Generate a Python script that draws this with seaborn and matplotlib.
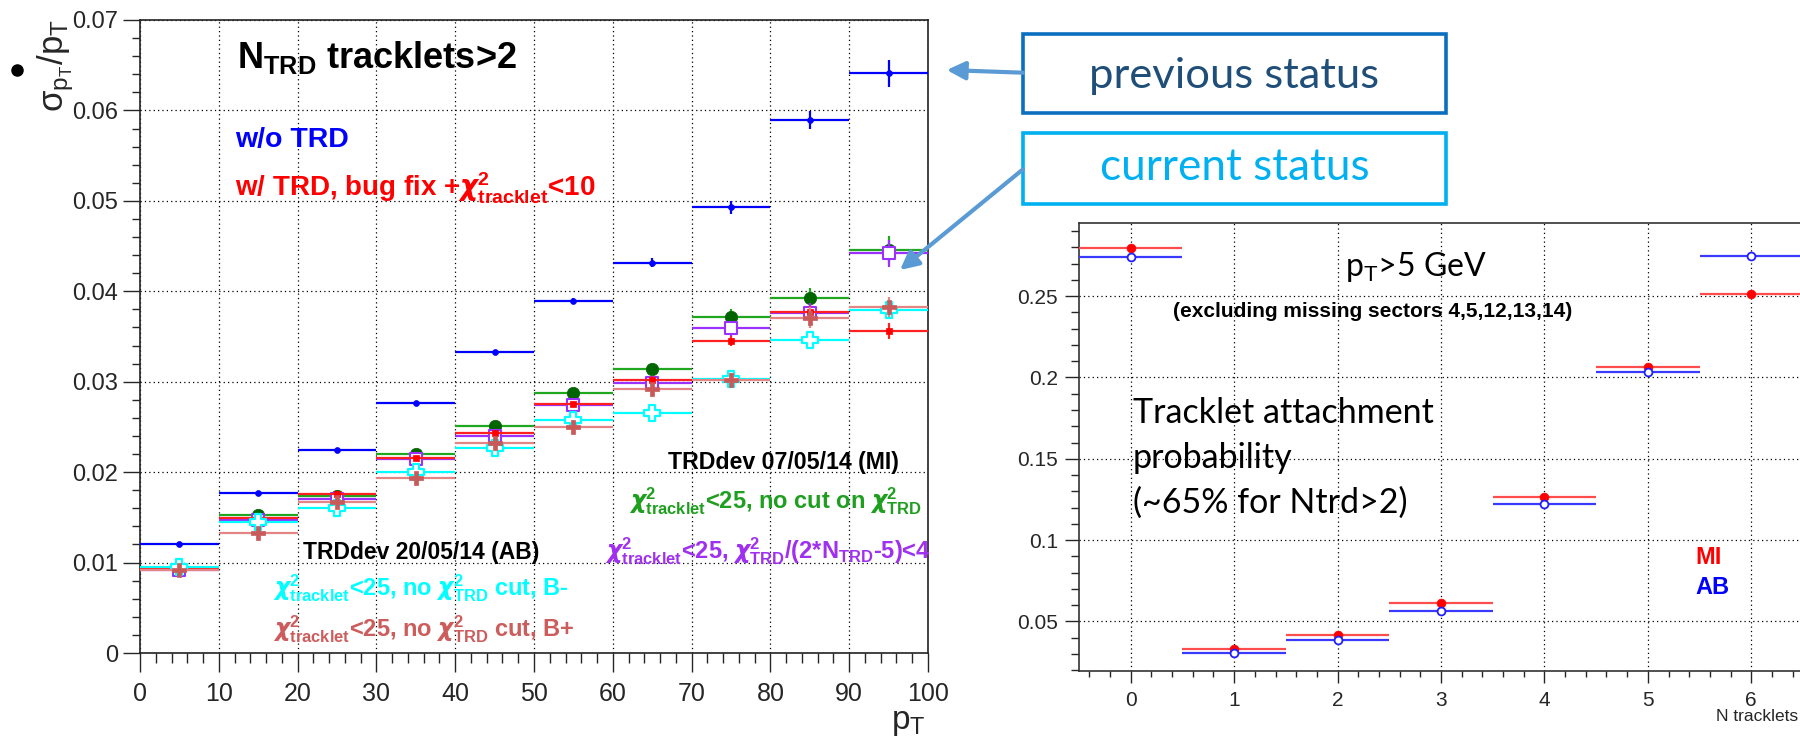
import numpy as np
import pandas as pd
import seaborn as sns
import matplotlib.pyplot as plt
from matplotlib.ticker import MultipleLocator, FuncFormatter
from matplotlib.patches import FancyArrowPatch, Rectangle
from matplotlib.lines import Line2D

# ---- left panel: relative pT resolution vs pT (10 GeV bins) ----
pt_bins = [5, 15, 25, 35, 45, 55, 65, 75, 85, 95]

res_wo_trd = [0.01205, 0.01773, 0.02241, 0.02768, 0.03326, 0.03893, 0.04317, 0.0493, 0.05893, 0.0641]
res_bugfix = [0.0093, 0.0149, 0.0176, 0.0216, 0.0243, 0.0275, 0.0302, 0.0345, 0.0377, 0.0356]
res_nocut = [0.0094, 0.01526, 0.01736, 0.02197, 0.0251, 0.0287, 0.0314, 0.0372, 0.0393, 0.0446]
res_ndfcut = [0.0092, 0.01467, 0.0170, 0.02142, 0.0240, 0.0274, 0.0299, 0.0359, 0.0376, 0.0442]
res_bminus = [0.0095, 0.01445, 0.0160, 0.02005, 0.0227, 0.0258, 0.0265, 0.0303, 0.0346, 0.0379]
res_bplus = [0.0092, 0.01323, 0.01673, 0.01939, 0.0232, 0.0250, 0.0292, 0.0302, 0.0371, 0.0383]

err_wo_trd = [0.0001, 0.0001, 0.0001, 0.0001, 0.0002, 0.0003, 0.0005, 0.0007, 0.0010, 0.0015]
err_bugfix = [0.0001, 0.0001, 0.0002, 0.0002, 0.0003, 0.0003, 0.0004, 0.0005, 0.0007, 0.0009]
err_nocut = [0.0001, 0.0002, 0.0002, 0.0003, 0.0004, 0.0005, 0.0006, 0.0008, 0.0011, 0.0015]
err_ndfcut = [0.0001, 0.0002, 0.0002, 0.0003, 0.0004, 0.0005, 0.0006, 0.0008, 0.0011, 0.0015]
err_bminus = [0.0001, 0.0002, 0.0002, 0.0003, 0.0003, 0.0004, 0.0005, 0.0007, 0.0009, 0.0009]
err_bplus = [0.0001, 0.0002, 0.0002, 0.0003, 0.0004, 0.0005, 0.0006, 0.0008, 0.0012, 0.0011]

# ---- right panel: tracklet attachment probability ----
n_tracklets = [0, 1, 2, 3, 4, 5, 6]
prob_mi = [0.2797, 0.0331, 0.0414, 0.0614, 0.1268, 0.2064, 0.2512]
prob_ab = [0.2742, 0.0305, 0.0385, 0.0565, 0.1221, 0.2035, 0.2750]
err_mi = [0.0015, 0.0008, 0.0008, 0.0010, 0.0012, 0.0014, 0.0014]
err_ab = [0.0015, 0.0008, 0.0008, 0.0010, 0.0012, 0.0014, 0.0014]

sns.set_theme(style='ticks')
plt.rcParams['font.family'] = ['Liberation Sans', 'DejaVu Sans']
plt.rcParams['mathtext.fontset'] = 'custom'
plt.rcParams['mathtext.rm'] = 'Liberation Sans'
plt.rcParams['mathtext.it'] = 'Liberation Sans:italic'
plt.rcParams['mathtext.bf'] = 'Liberation Sans:bold'
plt.rcParams['mathtext.sf'] = 'Liberation Sans'

W, H = 1800, 755


def px_rect(l, t, r, b):
    return [l / W, 1 - b / H, (r - l) / W, (b - t) / H]


def fx(x):
    return x / W


def fy(y):
    return 1 - y / H


fig = plt.figure(figsize=(18, 7.55), dpi=100)
ax = fig.add_axes(px_rect(140, 20, 928, 653))
ax2 = fig.add_axes(px_rect(1079, 223, 1803, 671))

fmt = FuncFormatter(lambda v, p: f'{v:g}')
grid_ls = (0, (1, 2.5))
chi = r'$\boldsymbol{\chi}^{\mathbf{2}}_{\mathbf{%s}}$'

# left panel series
left_series = [
    (res_wo_trd, err_wo_trd, dict(line='#0000ff', color='#0000ff', fc='#0000ff', marker='o', s=18, lw=0.5)),
    (res_nocut, err_nocut, dict(line='#1fa81f', color='#006400', fc='#006400', marker='o', s=80, lw=0.5)),
    (res_ndfcut, err_ndfcut, dict(line='#9b30ff', color='#9b30ff', fc='white', marker='s', s=72, lw=1.5)),
    (res_bugfix, err_bugfix, dict(line='#ff2020', color='#ff0000', fc='#ff0000', marker='s', s=22, lw=0.5)),
    (res_bminus, err_bminus, dict(line='#00ffff', color='#00ffff', fc='white', marker='P', s=120, lw=1.6)),
    (res_bplus, err_bplus, dict(line='#e38585', color='#c85a5a', fc='#c85a5a', marker='P', s=110, lw=0.5)),
]
for z, (vals, errs, st) in enumerate(left_series):
    ax.errorbar(pt_bins, vals, xerr=5, yerr=errs, fmt='none', ecolor=st['line'],
                elinewidth=1.6, capsize=0, zorder=3 + z)
    sns.scatterplot(x=pt_bins, y=vals, ax=ax, marker=st['marker'], s=st['s'],
                    color=st['color'], facecolor=st['fc'], edgecolor=st['color'],
                    linewidth=st['lw'], zorder=3.5 + z, legend=False)

ax.set_xlim(0, 100)
ax.set_ylim(0, 0.07)
ax.xaxis.set_major_locator(MultipleLocator(10))
ax.xaxis.set_minor_locator(MultipleLocator(2))
ax.yaxis.set_major_locator(MultipleLocator(0.01))
ax.yaxis.set_minor_locator(MultipleLocator(0.002))
ax.xaxis.set_major_formatter(fmt)
ax.yaxis.set_major_formatter(fmt)
ax.tick_params(axis='y', which='major', direction='out', length=12, width=1, labelsize=17, pad=4)
ax.tick_params(axis='y', which='minor', direction='out', length=6, width=1)
ax.tick_params(axis='x', which='major', direction='out', length=14, width=1, labelsize=18, pad=7)
ax.tick_params(axis='x', which='minor', direction='out', length=7, width=1)
ax.grid(True, which='major', color='black', linestyle=grid_ls, linewidth=0.9)
ax.set_axisbelow(True)
for sp in ax.spines.values():
    sp.set_color('#222222')
    sp.set_linewidth(1.2)
ax.set_xlabel('')
ax.set_ylabel('')

ax.text(12.3, 0.0647, r'N$_{\mathbf{TRD}}$ tracklets>2', fontsize=26, fontweight='bold',
        color='black', va='baseline')
ax.text(12.1, 0.0560, 'w/o TRD', fontsize=20.5, fontweight='bold', color='#0000ff', va='baseline')
ax.text(12.1, 0.05046, 'w/ TRD, bug fix +' + chi % 'tracklet' + '<10',
        fontsize=20, fontweight='bold', color='#ff0000', va='baseline')
ax.text(67.0, 0.0204, 'TRDdev 07/05/14 (MI)', fontsize=16.7, fontweight='bold',
        color='black', va='baseline')
ax.text(62.0, 0.01604, chi % 'tracklet' + '<25, no cut on ' + chi % 'TRD',
        fontsize=17, fontweight='bold', color='#1f9f1f', va='baseline')
ax.text(59.0, 0.01048, chi % 'tracklet' + '<25, ' + chi % 'TRD' + r'/(2*N$_{\mathbf{TRD}}$-5)<4',
        fontsize=17, fontweight='bold', color='#a030f0', va='baseline')
ax.text(20.7, 0.01036, 'TRDdev 20/05/14 (AB)', fontsize=16.5, fontweight='bold',
        color='black', va='baseline')
ax.text(16.9, 0.0064, chi % 'tracklet' + '<25, no ' + chi % 'TRD' + ' cut, B-',
        fontsize=17, fontweight='bold', color='#00ffff', va='baseline')
ax.text(16.9, 0.0018, chi % 'tracklet' + '<25, no ' + chi % 'TRD' + ' cut, B+',
        fontsize=17, fontweight='bold', color='#cd5c5c', va='baseline')

# axis titles of left panel (ROOT style, aligned to axis ends)
fig.text(fx(56), fy(19), r'$\mathrm{\sigma}_{\mathrm{p}_{\mathrm{T}}}/\mathrm{p}_{\mathrm{T}}$',
         rotation=90, ha='center', va='top', fontsize=25)
fig.add_artist(Line2D([fx(17)], [fy(70)], marker='o', markersize=8, color='black',
                      transform=fig.transFigure))
fig.text(fx(926), fy(722), r'p$_{\mathrm{T}}$', ha='right', va='center', fontsize=24)

# right panel
ax2.errorbar(n_tracklets, prob_mi, xerr=0.5, yerr=err_mi, fmt='none', ecolor='#ff4d4d',
             elinewidth=1.6, capsize=0, zorder=3)
ax2.errorbar(n_tracklets, prob_ab, xerr=0.5, yerr=err_ab, fmt='none', ecolor='#3a3aff',
             elinewidth=1.6, capsize=0, zorder=3)
sns.scatterplot(x=n_tracklets, y=prob_mi, ax=ax2, marker='o', s=40, color='#ff0000',
                edgecolor='#ff0000', linewidth=0.5, zorder=4, legend=False)
sns.scatterplot(x=n_tracklets, y=prob_ab, ax=ax2, marker='o', s=32, color='#2020ff',
                facecolor='white', edgecolor='#2020ff', linewidth=1.3, zorder=5, legend=False)

ax2.set_xlim(-0.5, 6.5)
ax2.set_ylim(0.0195, 0.295)
ax2.xaxis.set_major_locator(MultipleLocator(1))
ax2.xaxis.set_minor_locator(MultipleLocator(0.2))
ax2.yaxis.set_major_locator(MultipleLocator(0.05))
ax2.yaxis.set_minor_locator(MultipleLocator(0.01))
ax2.xaxis.set_major_formatter(fmt)
ax2.yaxis.set_major_formatter(fmt)
ax2.tick_params(axis='y', which='major', direction='out', length=10, width=1, labelsize=15, pad=5)
ax2.tick_params(axis='y', which='minor', direction='out', length=5.5, width=1)
ax2.tick_params(axis='x', which='major', direction='out', length=8.5, width=1, labelsize=15, pad=6)
ax2.tick_params(axis='x', which='minor', direction='out', length=4.5, width=1)
ax2.grid(True, which='major', color='black', linestyle=grid_ls, linewidth=0.9)
ax2.set_axisbelow(True)
for sp in ax2.spines.values():
    sp.set_color('#333333')
    sp.set_linewidth(1.2)
ax2.set_xlabel('')
ax2.set_ylabel('')

lato = ['Lato', 'DejaVu Sans']
ax2.text(2.07, 0.2624, r'p$_{\mathrm{T}}$>5 GeV', fontsize=23, family=lato, color='black', va='baseline')
ax2.text(0.406, 0.2373, '(excluding missing sectors 4,5,12,13,14)', fontsize=15,
         fontweight='bold', color='black', va='baseline')
ax2.text(0.02, 0.172, 'Tracklet attachment', fontsize=24.5, family=lato, color='black', va='baseline')
ax2.text(0.02, 0.1443, 'probability', fontsize=24.5, family=lato, color='black', va='baseline')
ax2.text(0.02, 0.1166, '(~65% for Ntrd>2)', fontsize=24.5, family=lato, color='black', va='baseline')
ax2.text(5.455, 0.0852, 'MI', fontsize=17, fontweight='bold', color='#ff0000', va='baseline')
ax2.text(5.455, 0.0668, 'AB', fontsize=17, fontweight='bold', color='#0000ff', va='baseline')
fig.text(fx(1798), fy(721), 'N tracklets', ha='right', va='baseline', fontsize=12.5)

# status boxes and arrows
fig.add_artist(Rectangle((fx(1023), fy(113)), (1446 - 1023) / W, (113 - 34) / H,
                         transform=fig.transFigure, fill=False, lw=2.6, edgecolor='#0b6fbf'))
fig.text(fx(1234.5), fy(76), 'previous status', ha='center', va='center', fontsize=31.3,
         family=lato, color='#1f4e79')
fig.add_artist(Rectangle((fx(1023), fy(204)), (1446 - 1023) / W, (204 - 133) / H,
                         transform=fig.transFigure, fill=False, lw=2.6, edgecolor='#00b0f0'))
fig.text(fx(1234.5), fy(168), 'current status', ha='center', va='center', fontsize=31.8,
         family=lato, color='#00b0f0')

for tail, head in [((1023, 72.7), (946.7, 70)), ((1023, 169.3), (900, 270))]:
    fig.add_artist(FancyArrowPatch((fx(tail[0]), fy(tail[1])), (fx(head[0]), fy(head[1])),
                                   transform=fig.transFigure,
                                   arrowstyle='-|>,head_length=1.0,head_width=0.5',
                                   mutation_scale=11, color='#5b9bd5', lw=3,
                                   shrinkA=0, shrinkB=0, zorder=20))

plt.savefig('out.png', dpi=100)
plt.close()
